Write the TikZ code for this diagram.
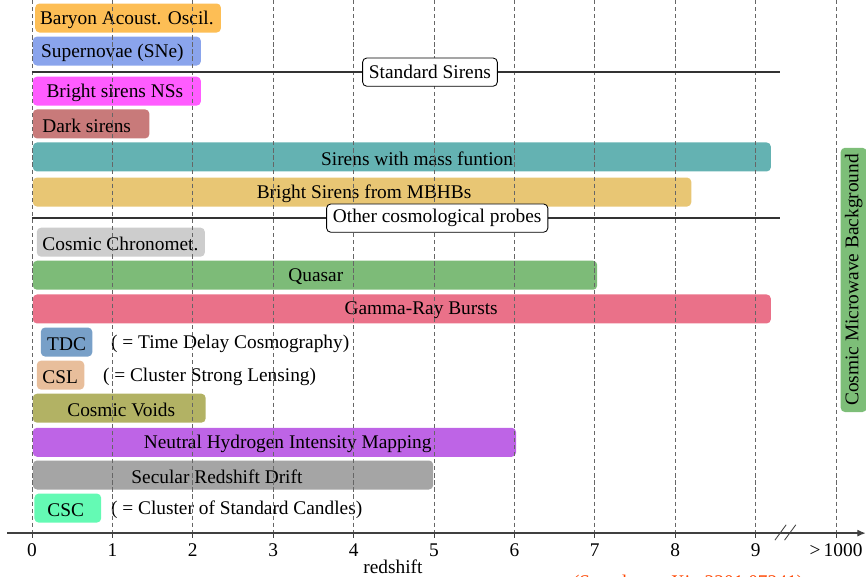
\documentclass[tikz,border=0pt]{standalone}
\usepackage{fontspec}
\setmainfont{Liberation Serif}
\usetikzlibrary{arrows.meta}

\definecolor{baocol}{HTML}{FDBE55}
\definecolor{snecol}{HTML}{8AA4EC}
\definecolor{nscol}{HTML}{FF5CFF}
\definecolor{darkcol}{HTML}{C87A7A}
\definecolor{masscol}{HTML}{64B2B2}
\definecolor{mbhbcol}{HTML}{E8C674}
\definecolor{cccol}{HTML}{CDCDCD}
\definecolor{qsocol}{HTML}{7DBB78}
\definecolor{grbcol}{HTML}{EA7189}
\definecolor{tdccol}{HTML}{78A0C8}
\definecolor{cslcol}{HTML}{E8BE9B}
\definecolor{voidcol}{HTML}{B2B264}
\definecolor{hicol}{HTML}{BE64E6}
\definecolor{driftcol}{HTML}{A5A5A5}
\definecolor{csccol}{HTML}{64FAB4}
\definecolor{cmbcol}{HTML}{7DBE78}
\definecolor{refcol}{HTML}{FF4500}

% one bar: row, start z, end z, colour
\newcommand{\probebar}[4]{\fill[bar,#4] (#2,{#1-0.434}) rectangle (#3,{#1+0.434});}

\begin{document}
\begin{tikzpicture}[
    x=2cm, y=-0.831cm,
    font=\fontsize{13.7}{16}\selectfont,
    bar/.style={rounded corners=3pt},
    label/.style={inner sep=0pt},
    note/.style={inner sep=0pt, anchor=west},
    grid/.style={dash pattern=on 3pt off 2pt, black!60, line width=0.5pt},
    sep/.style={line width=0.9pt, black!80},
    tag/.style={draw, fill=white, rounded corners=3pt, inner xsep=4.5pt,
        minimum height=20pt, line width=0.6pt},
    axis/.style={line width=1pt, black!75, -{Latex[length=6pt,width=5pt]}}
]
\useasboundingbox (-0.398,-0.539) rectangle (10.373,16.707);

% bars
\probebar{0}{0.04}{2.35}{baocol}
\probebar{0.99}{0.01}{2.1}{snecol}
\probebar{2.19}{0.01}{2.1}{nscol}
\probebar{3.17}{0.01}{1.46}{darkcol}
\probebar{4.16}{0.01}{9.19}{masscol}
\probebar{5.21}{0.01}{8.2}{mbhbcol}
\probebar{6.71}{0.06}{2.15}{cccol}
\probebar{7.70}{0.01}{7.03}{qsocol}
\probebar{8.71}{0.01}{9.19}{grbcol}
\probebar{9.70}{0.11}{0.75}{tdccol}
\probebar{10.69}{0.06}{0.65}{cslcol}
\probebar{11.68}{0.01}{2.16}{voidcol}
\probebar{12.70}{0.01}{6.02}{hicol}
\probebar{13.68}{0.01}{4.99}{driftcol}
\probebar{14.67}{0.03}{0.86}{csccol}

% bar labels
\node[label] (bao) at (1.18,0.05) {Baryon Acoust. Oscil.};
\node[label] (sne) at (1.0,1.04) {Supernovae (SNe)};
\node[label] (brightns) at (1.03,2.24) {Bright sirens NSs};
\node[label] (dark) at (0.68,3.22) {Dark sirens};
\node[label] (massfn) at (4.79,4.21) {Sirens with mass funtion};
\node[label] (mbhb) at (4.13,5.26) {Bright Sirens from MBHBs};
\node[label] (cc) at (1.1,6.76) {Cosmic Chronomet.};
\node[label] (quasar) at (3.53,7.75) {Quasar};
\node[label] (grb) at (4.84,8.76) {Gamma-Ray Bursts};
\node[label] (tdc) at (0.43,9.75) {TDC};
\node[note] (tdcnote) at (0.98,9.75) {( = Time Delay Cosmography)};
\node[label] (csl) at (0.35,10.74) {CSL};
\node[note] (cslnote) at (0.88,10.74) {( = Cluster Strong Lensing)};
\node[label] (voids) at (1.11,11.73) {Cosmic Voids};
\node[label] (hi) at (3.18,12.75) {Neutral Hydrogen Intensity Mapping};
\node[label] (drift) at (2.30,13.73) {Secular Redshift Drift};
\node[label] (csc) at (0.42,14.72) {CSC};
\node[note] (cscnote) at (0.98,14.72) {( = Cluster of Standard Candles)};

\node[rotate=90, fill=cmbcol, rounded corners=3pt, minimum width=187pt,
    minimum height=18.4pt, inner sep=0pt] (cmb) at (10.22,7.84)
    {Cosmic Microwave Background};

% grid
\foreach \z in {0,...,10}
    \draw[grid] (\z,-0.54) -- (\z,15.42);

% group separators
\coordinate (s1a) at (0,1.62);
\coordinate (s1b) at (9.3,1.62);
\coordinate (s2a) at (0,5.99);
\coordinate (s2b) at (9.3,5.99);
\draw[sep] (s1a) -- (s1b);
\draw[sep] (s2a) -- (s2b);
\node[tag] (sirens) at (4.95,1.62) {Standard Sirens};
\node[tag] (others) at (5.04,5.99) {Other cosmological probes};

% axis
\coordinate (axstart) at (-0.31,15.42);
\coordinate (axend) at (10.37,15.42);
\draw[axis] (axstart) -- (axend);
\foreach \z in {0,...,10}
    \draw[black!75, line width=0.6pt] (\z,15.42) -- (\z,15.56);
\foreach \z in {0,...,9}
    \node[label] (t\z) at (\z,15.93) {\z};
\node[label] (tbig) at (10,15.93) {>\,1000};
\draw[black!75, line width=0.6pt] (9.24,15.63) -- (9.38,15.17);
\draw[black!75, line width=0.6pt] (9.36,15.63) -- (9.50,15.17);

\node[label] (zlabel) at (4.49,16.44) {redshift};
\node[inner sep=0pt, anchor=north, text=refcol] (ref) at (8.16,16.68)
    {(Saved on arXiv 2201.07241)};
\end{tikzpicture}
\end{document}
